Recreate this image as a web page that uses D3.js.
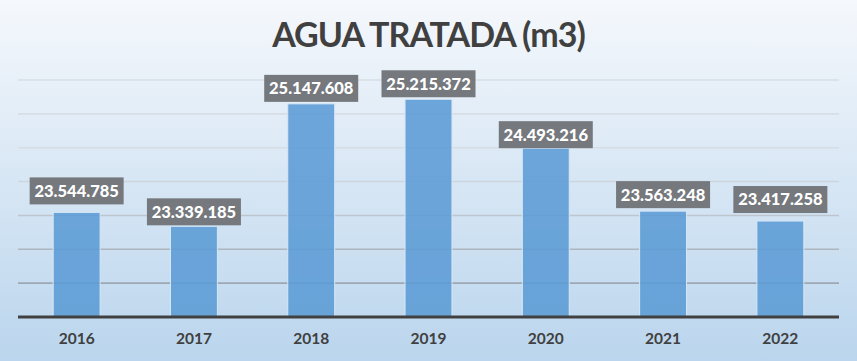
<!DOCTYPE html>
<html>
<head>
<meta charset="utf-8">
<script src="https://cdn.jsdelivr.net/npm/d3@7"></script>
<style>
  body { margin: 0; }
  svg { display: block; }
</style>
</head>
<body>
<div id="my_dataviz"></div>
<script>
// chart data
const years = ["2016", "2017", "2018", "2019", "2020", "2021", "2022"];
const treated = [23544785, 23339185, 25147608, 25215372, 24493216, 23563248, 23417258];
const gridTicks = [22000000, 22500000, 23000000, 23500000, 24000000, 24500000, 25000000, 25500000];

// how far each label box sits above its bar (manual placement in the original)
const labelLift = [8, 1, 2, 2, 0, 3, 8];

const W = 857, H = 361;
const margin = {top: 80, right: 18, bottom: 44, left: 18},
    width = W - margin.left - margin.right,
    height = H - margin.top - margin.bottom;

const root = d3.select("#my_dataviz")
  .append("svg")
    .attr("width", W)
    .attr("height", H);

const defs = root.append("defs");
const bg = defs.append("linearGradient")
    .attr("id", "bg").attr("x1", 0).attr("y1", 0).attr("x2", 0).attr("y2", 1);
bg.append("stop").attr("offset", "0%").attr("stop-color", "#f5f8fc");
bg.append("stop").attr("offset", "100%").attr("stop-color", "#bad5ed");

const gl = defs.append("linearGradient")
    .attr("id", "grid").attr("gradientUnits", "userSpaceOnUse")
    .attr("x1", 0).attr("y1", margin.top).attr("x2", 0).attr("y2", margin.top + height);
gl.append("stop").attr("offset", "0%").attr("stop-color", "#d6dde5");
gl.append("stop").attr("offset", "100%").attr("stop-color", "#6a7581");

root.append("rect")
  .attr("width", W).attr("height", H)
  .attr("fill", "url(#bg)");

// title
root.append("text")
  .attr("x", W / 2)
  .attr("y", 47)
  .attr("text-anchor", "middle")
  .attr("font-family", "Lato, 'Open Sans', sans-serif")
  .attr("font-weight", "bold")
  .attr("font-size", "34px")
  .attr("letter-spacing", "-1px")
  .attr("fill", "#404040")
  .text("AGUA TRATADA (m3)");

const svg = root.append("g")
  .attr("transform", `translate(${margin.left},${margin.top})`);

const x = d3.scaleBand()
  .domain(years)
  .range([0, width])
  .paddingInner(0.6)
  .paddingOuter(0.3);

const y = d3.scaleLinear()
  .domain([22000000, 25500000])
  .range([height, 0]);

// gridlines
svg.append("g")
  .selectAll("line")
  .data(gridTicks.slice(1))
  .join("line")
    .attr("x1", 0).attr("x2", width)
    .attr("y1", d => y(d)).attr("y2", d => y(d))
    .attr("stroke", "url(#grid)")
    .attr("stroke-width", 1.6);

// bars
svg.selectAll("mybar")
  .data(treated)
  .join("rect")
    .attr("x", (d, i) => x(years[i]))
    .attr("y", d => y(d))
    .attr("width", x.bandwidth())
    .attr("height", d => height - y(d))
    .attr("fill", "#5b9bd5")
    .attr("fill-opacity", 0.88)
    .attr("stroke", "#d6e7f6")
    .attr("stroke-width", 1);

// baseline
svg.append("line")
  .attr("x1", 0).attr("x2", width)
  .attr("y1", height).attr("y2", height)
  .attr("stroke", "#404040")
  .attr("stroke-width", 3);

// x axis labels
const xAxis = svg.append("g")
  .attr("transform", `translate(0,${height})`)
  .call(d3.axisBottom(x).tickSize(0).tickPadding(16));
xAxis.select(".domain").remove();
xAxis.selectAll("text")
  .attr("font-family", "Lato, sans-serif")
  .attr("font-weight", "bold")
  .attr("font-size", "15.5px")
  .attr("fill", "#404040");

// value labels
const fmt = d3.formatLocale({decimal: ",", thousands: ".", grouping: [3], currency: ["", ""]}).format(",d");
const boxW = 94, boxH = 27;
const lab = svg.selectAll("g.lab")
  .data(treated)
  .join("g")
    .attr("class", "lab")
    .attr("transform", (d, i) =>
      `translate(${x(years[i]) + x.bandwidth() / 2},${y(d) - labelLift[i] - boxH})`);
lab.append("rect")
  .attr("x", -boxW / 2).attr("width", boxW)
  .attr("height", boxH)
  .attr("fill", "#75787d");
lab.append("text")
  .attr("y", boxH / 2)
  .attr("dy", "0.36em")
  .attr("text-anchor", "middle")
  .attr("font-family", "Lato, sans-serif")
  .attr("font-weight", "900")
  .attr("font-size", "16.5px")
  .attr("fill", "#ffffff")
  .text(d => fmt(d));
</script>
</body>
</html>
